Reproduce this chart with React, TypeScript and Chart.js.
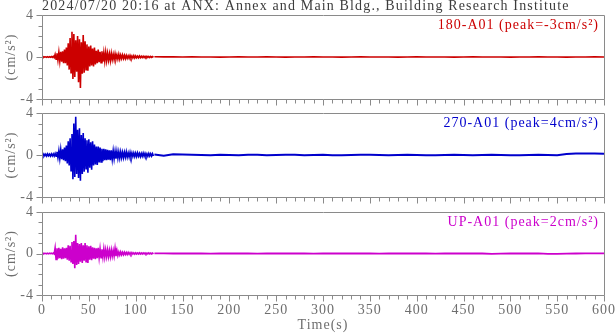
import React, { useEffect, useRef } from "react";
import { Chart, registerables } from "chart.js";

Chart.register(...registerables);

// ---------------- data ----------------
const TITLE = "2024/07/20 20:16 at ANX: Annex and Main Bldg., Building Research Institute";
const X_MIN = 0;
const X_MAX = 600;
const Y_MIN = -4;
const Y_MAX = 4;
const X_TICK_LABELS = [0, 50, 100, 150, 200, 250, 300, 350, 400, 450, 500, 550, 600];
const Y_TICK_LABELS = [-4, 0, 4];
const X_TITLE = "Time(s)";
const Y_TITLE = "(cm/s\u00B2)";

// strong-motion part: per 2-second bin, max (Hi) and min (Lo), from t = 0 to 118 s
const BURST_STEP = 2;
// coda: mean level every 10 s from 120 s to 600 s
const TAIL_START = 120;
const TAIL_STEP = 10;

const CHANNELS = ["180-A01", "270-A01", "UP-A01"];
const PEAKS = [-3, 4, 2];

const ch180Hi = [0.03,0.03,0.02,0.03,0.03,0.04,0.06,0.25,0.35,0.45, 0.5,0.55,0.7,0.9,1.3,1.8,2.4,2.2,1.6,2.0, 1.7,1.4,2.1,1.5,1.2,1.0,1.1,0.8,0.9,0.6, 0.7,0.5,0.55,0.4,0.45,0.35,0.3,0.35,0.25,0.3, 0.2,0.25,0.18,0.2,0.15,0.15,0.12,0.15,0.1,0.12, 0.1,0.08,0.1,0.07,0.08,0.06,0.06,0.05,0.05,0.04];
const ch180Lo = [-0.03,-0.02,-0.03,-0.03,-0.02,-0.04,-0.06,-0.2,-0.3,-0.4, -0.45,-0.6,-0.6,-0.8,-1.2,-1.5,-2.1,-1.9,-1.4,-2.4, -2.96,-1.6,-1.5,-1.2,-1.3,-0.9,-0.8,-0.9,-0.7,-0.6, -0.5,-0.55,-0.45,-0.4,-0.35,-0.3,-0.35,-0.25,-0.25,-0.2, -0.2,-0.2,-0.15,-0.15,-0.15,-0.12,-0.12,-0.1,-0.1,-0.1, -0.08,-0.08,-0.07,-0.06,-0.06,-0.05,-0.05,-0.05,-0.04,-0.04];
const ch180Tail = [0.02,0.01,0.01,0,0.01,0,0,-0.01,0,0.01, 0,0,0.01,0,-0.01,0,0,0.01,0,0, -0.01,0,0.01,0,0,0,-0.01,0,0.01,0, 0,0,-0.01,0,0.01,0,0,0,-0.01,0, 0,0.01,0,0,-0.01,0,0,0.01,0];

const ch270Hi = [0.08,0.1,0.08,0.1,0.08, 0.1,0.1,0.15,0.3,0.4, 0.5,0.55,0.7,0.9,1.3,1.6,2.0,3.0,3.65,2.4, 2.55,1.9,2.1,1.6,1.4,1.5,1.2,1.3,1.0,0.8, 0.8,0.7,0.6,0.6,0.55,0.5,0.45,0.45,0.4,0.35, 0.35,0.3,0.3,0.25,0.25,0.3,0.2,0.25,0.2,0.2, 0.18,0.2,0.15,0.15,0.18,0.15,0.12,0.15,0.12,0.12];
const ch270Lo = [-0.08,-0.08,-0.1,-0.08,-0.1, -0.08,-0.1,-0.12,-0.25,-0.35, -0.4,-0.5,-0.6,-0.8,-1.0,-1.5,-2.3,-2.1,-1.8,-2.2, -2.45,-1.8,-1.6,-1.3,-1.7,-1.2,-1.4,-1.0,-0.9,-0.95, -0.7,-0.65,-0.6,-0.5,-0.5,-0.45,-0.5,-0.4,-0.35,-0.35, -0.3,-0.3,-0.25,-0.25,-0.2,-0.2,-0.2,-0.18,-0.15,-0.15, -0.15,-0.12,-0.15,-0.12,-0.12,-0.12,-0.12,-0.1,-0.1,-0.1];
const ch270Tail = [0.05,-0.08,0.08,0.05,0.03,0,-0.02,0.02,0,-0.03, 0.02,0.03,-0.02,0,0.03,0.02,-0.02,0,0.02,-0.02, -0.03,0,0.02,0.03,0,-0.02,0,0.02,0.01,-0.02, -0.03,0,0.02,0,-0.02,0,0.02,0.01,-0.02,-0.03, 0,0.02,0,-0.02,0.1,0.15,0.15,0.15,0.12];

const chUpHi = [0.03,0.03,0.02,0.03,0.03, 0.03,0.04,0.55,0.5,0.55, 0.45,0.6,0.5,0.55,0.8,0.75,1.1,1.2,1.8,1.0, 0.9,1.0,0.8,1.0,0.8,0.7,0.75,0.6,0.55,0.5, 0.55,0.45,0.4,0.45,0.35,0.35,0.3,0.35,0.3,0.5, 0.3,0.15,0.15,0.12,0.12,0.1,0.1,0.08,0.08,0.06, 0.06,0.05,0.06,0.05,0.05,0.05,0.04,0.05,0.04,0.04];
const chUpLo = [-0.03,-0.02,-0.03,-0.03,-0.02, -0.03,-0.04,-0.57,-0.5,-0.45, -0.55,-0.5,-0.45,-0.6,-0.7,-0.8,-1.0,-1.43,-1.1,-1.0, -0.8,-0.9,-0.7,-0.8,-0.9,-0.6,-0.65,-0.5,-0.55,-0.45, -0.4,-0.4,-0.35,-0.35,-0.3,-0.3,-0.3,-0.25,-0.25,-0.25, -0.2,-0.15,-0.12,-0.12,-0.1,-0.1,-0.08,-0.08,-0.06,-0.06, -0.05,-0.05,-0.05,-0.05,-0.04,-0.05,-0.04,-0.04,-0.04,-0.04];
const chUpTail = [0.02,0.01,0,0.01,0,0,-0.01,0,0.01,0, 0,-0.01,0,0.01,0,0,0,-0.01,0,0.01, 0,0,0.01,0,-0.01,0,0,0.01,0,0, -0.01,0,0,0,0.01,0,-0.03,-0.02,0,0.01, 0,0.01,-0.03,-0.04,-0.02,0,0.02,0.02,0.02];

const HI = [ch180Hi, ch270Hi, chUpHi];
const LO = [ch180Lo, ch270Lo, chUpLo];
const TAIL = [ch180Tail, ch270Tail, chUpTail];

// ---------------- styles / layout ----------------
const W = 616;
const H = 334;
const FONT = '"Liberation Serif", "Times New Roman", serif';
const AXIS_COLOR = "#8a8a8a";
const TEXT_GRAY = "#6e6e6e";
const TITLE_COLOR = "#3c3c3c";
const COLORS = ["#cc0000", "#0000cc", "#cc00cc"];
const BURST_WIDTH = 1.6;
const TAIL_WIDTHS = [1.6, 2, 1.8];
const PANELS = [
  { top: 15, bottom: 99, axisH: 6 },
  { top: 113, bottom: 197, axisH: 6 },
  { top: 212, bottom: 295, axisH: 39 },
];
const PLOT_LEFT = 42;
const PLOT_RIGHT = 604;

function buildBurst(i: number) {
  const pts: { x: number; y: number }[] = [];
  HI[i].forEach((v, k) => {
    pts.push({ x: k * BURST_STEP, y: v });
    pts.push({ x: k * BURST_STEP + BURST_STEP / 2, y: LO[i][k] });
  });
  return pts;
}
function buildTail(i: number) {
  return TAIL[i].map((v, k) => ({ x: TAIL_START + k * TAIL_STEP, y: v }));
}

function makePlugin(i: number) {
  return {
    id: "frame" + i,
    beforeLayout(chart: any) {
      chart.ctx.letterSpacing = "1px";
    },
    beforeDraw(chart: any) {
      chart.ctx.letterSpacing = "1px";
    },
    afterDatasetsDraw(chart: any) {
      const { ctx, chartArea: a, scales } = chart;
      const xs = scales.x;
      const ys = scales.y;
      ctx.save();
      ctx.strokeStyle = AXIS_COLOR;
      ctx.lineWidth = 1;
      ctx.beginPath();
      ctx.rect(a.left + 0.5, a.top + 0.5, a.right - a.left, a.bottom - a.top);
      for (let v = Y_MIN; v <= Y_MAX; v += 1) {
        const py = Math.round(ys.getPixelForValue(v)) + 0.5;
        const len = v % 4 === 0 ? 6 : 4;
        ctx.moveTo(a.left + 0.5 - len, py);
        ctx.lineTo(a.left + 0.5, py);
      }
      for (let t = X_MIN; t <= X_MAX; t += 10) {
        const px = Math.round(xs.getPixelForValue(t)) + 0.5;
        const len = t % 50 === 0 ? 6 : 4;
        ctx.moveTo(px, a.bottom + 0.5);
        ctx.lineTo(px, a.bottom + 0.5 + len);
      }
      ctx.stroke();

      ctx.letterSpacing = "1px";
      ctx.font = `14px ${FONT}`;
      ctx.textBaseline = "alphabetic";
      ctx.fillStyle = COLORS[i];
      ctx.textAlign = "right";
      ctx.fillText(`${CHANNELS[i]} (peak=${PEAKS[i]}cm/s\u00B2)`, a.right - 5, a.top + 14);
      if (i === 0) {
        ctx.letterSpacing = "1.15px";
        ctx.fillStyle = TITLE_COLOR;
        ctx.textAlign = "left";
        ctx.fillText(TITLE, PLOT_LEFT, 10);
      }
      ctx.restore();
    },
  };
}

function Panel({ index }: { index: number }) {
  const ref = useRef<HTMLCanvasElement | null>(null);
  useEffect(() => {
    if (!ref.current) return;
    const p = PANELS[index];
    const isLast = index === PANELS.length - 1;
    const font = { family: FONT, size: 14 };
    const chart = new Chart(ref.current, {
      type: "line",
      data: {
        datasets: [
          {
            data: buildBurst(index),
            borderColor: COLORS[index],
            borderWidth: BURST_WIDTH,
            pointRadius: 0,
            tension: 0,
            fill: false,
          },
          {
            data: buildTail(index),
            borderColor: COLORS[index],
            borderWidth: TAIL_WIDTHS[index],
            pointRadius: 0,
            tension: 0,
            fill: false,
          },
        ],
      },
      options: {
        animation: false,
        responsive: false,
        devicePixelRatio: 1,
        events: [],
        layout: {
          padding: { left: 0, right: W - PLOT_RIGHT, top: p.top, bottom: H - p.bottom - p.axisH },
        },
        plugins: { legend: { display: false }, title: { display: false }, tooltip: { enabled: false } },
        scales: {
          x: {
            type: "linear",
            min: X_MIN,
            max: X_MAX,
            afterBuildTicks: (s: any) => {
              s.ticks = X_TICK_LABELS.map((v) => ({ value: v }));
            },
            ticks: {
              display: isLast,
              autoSkip: false,
              maxRotation: 0,
              padding: 1,
              color: TEXT_GRAY,
              font,
              callback: (v: any) => String(v),
            },
            grid: { display: true, drawOnChartArea: false, drawTicks: true, tickLength: 6, color: "rgba(0,0,0,0)" },
            border: { display: false },
            title: { display: isLast, text: X_TITLE, color: TEXT_GRAY, font, padding: { top: 0, bottom: 0 } },
            afterFit: (s: any) => {
              s.height = p.axisH;
              s.paddingLeft = 0;
              s.paddingRight = 0;
            },
          },
          y: {
            type: "linear",
            min: Y_MIN,
            max: Y_MAX,
            afterBuildTicks: (s: any) => {
              s.ticks = Y_TICK_LABELS.map((v) => ({ value: v }));
            },
            ticks: { padding: 2, color: TEXT_GRAY, font, callback: (v: any) => String(v) },
            grid: { display: true, drawOnChartArea: false, drawTicks: true, tickLength: 6, color: "rgba(0,0,0,0)" },
            border: { display: false },
            title: { display: true, text: Y_TITLE, color: TEXT_GRAY, font, padding: { top: 2.5, bottom: 0 } },
            afterFit: (s: any) => {
              s.width = PLOT_LEFT;
              s.paddingTop = 0;
              s.paddingBottom = 0;
            },
          },
        },
      } as any,
      plugins: [makePlugin(index)],
    });
    return () => chart.destroy();
  }, [index]);
  return (
    <canvas
      ref={ref}
      width={W}
      height={H}
      style={{ position: "absolute", left: 0, top: 0, width: W, height: H }}
    />
  );
}

export default function App() {
  return (
    <div style={{ position: "fixed", left: 0, top: 0, width: W, height: H, background: "#fff", overflow: "hidden" }}>
      {PANELS.map((_, i) => (
        <Panel key={i} index={i} />
      ))}
    </div>
  );
}
